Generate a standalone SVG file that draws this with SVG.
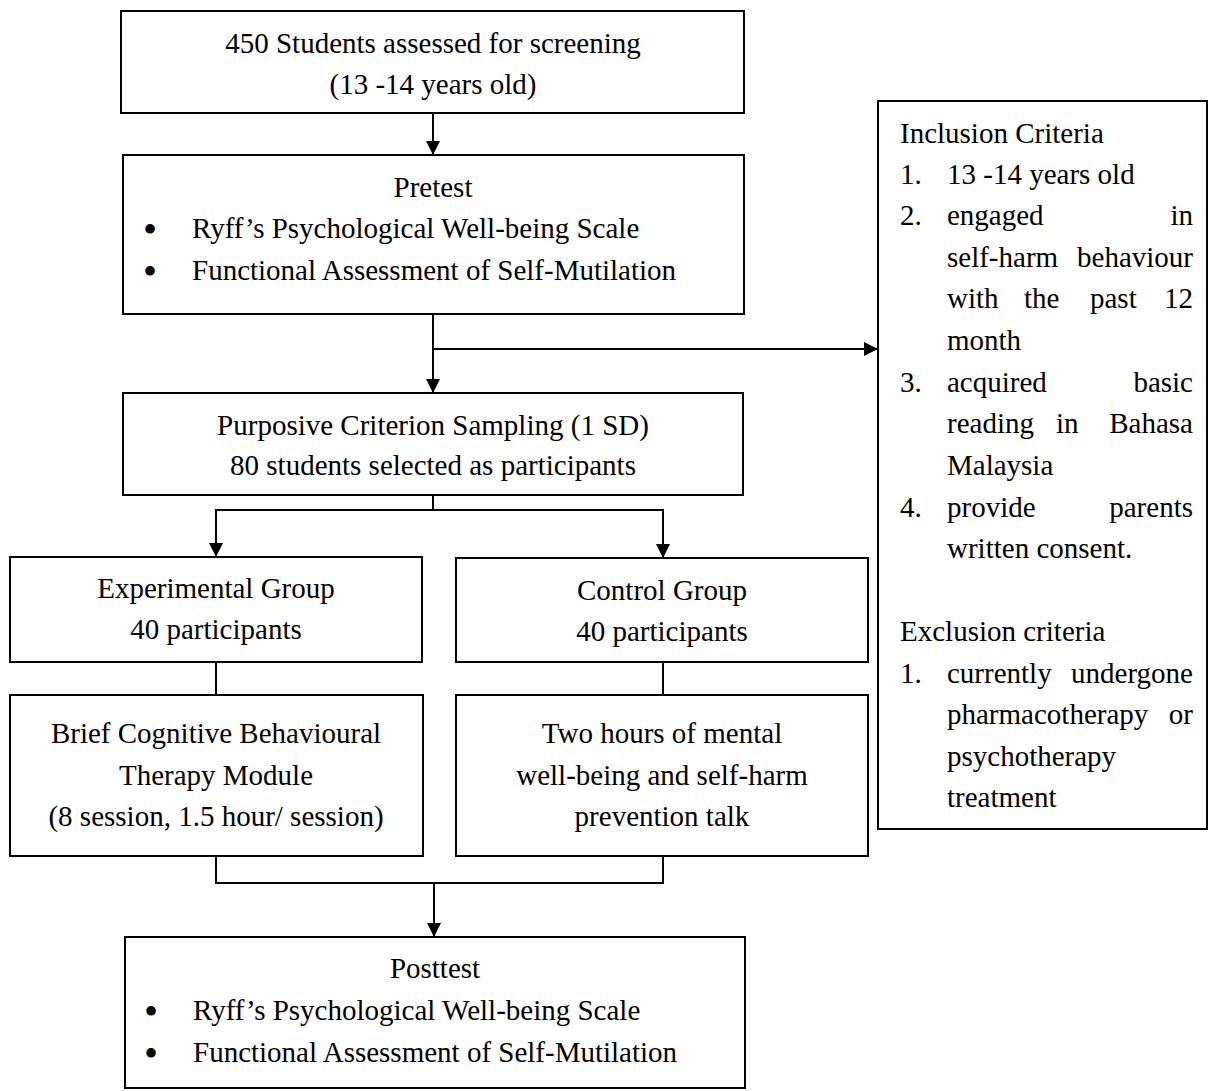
<svg xmlns="http://www.w3.org/2000/svg" width="1208" height="1091" viewBox="0 0 1208 1091">
<style>
  .box { fill: #ffffff; stroke: #000000; stroke-width: 2; }
  .t { font-family: "Liberation Serif", "Times New Roman", serif; font-size: 29px; fill: #000000; }
  .b { font-family: "Liberation Serif", "Times New Roman", serif; font-size: 40px; fill: #000000; text-anchor: middle; }
  .c { text-anchor: middle; }
  .e { text-anchor: end; }
  .ln { fill: none; stroke: #000000; stroke-width: 2; }
</style>
<defs>
  <marker id="arr" markerUnits="userSpaceOnUse" markerWidth="16" markerHeight="16" refX="14" refY="7" orient="auto">
    <path d="M0,0 L14,7 L0,14 z" fill="#000000"/>
  </marker>
</defs>
<rect x="0" y="0" width="1208" height="1091" fill="#ffffff"/>

<g id="connectors">
  <line class="ln" x1="433" y1="113" x2="433" y2="155" marker-end="url(#arr)"/>
  <line class="ln" x1="433" y1="314" x2="433" y2="393" marker-end="url(#arr)"/>
  <line class="ln" x1="433" y1="349" x2="878" y2="349" marker-end="url(#arr)"/>
  <line class="ln" x1="433" y1="495" x2="433" y2="510"/>
  <line class="ln" x1="215" y1="510" x2="664" y2="510"/>
  <line class="ln" x1="216" y1="510" x2="216" y2="557" marker-end="url(#arr)"/>
  <line class="ln" x1="663" y1="510" x2="663" y2="558" marker-end="url(#arr)"/>
  <line class="ln" x1="216" y1="662" x2="216" y2="695"/>
  <line class="ln" x1="663" y1="662" x2="663" y2="695"/>
  <polyline class="ln" points="216,856 216,883 663,883 663,856"/>
  <line class="ln" x1="434" y1="883" x2="434" y2="937" marker-end="url(#arr)"/>
</g>

<g id="screening">
  <rect class="box" x="121" y="11" width="623" height="102"/>
  <text class="t c" x="433" y="53">450 Students assessed for screening</text>
  <text class="t c" x="433" y="94">(13 -14 years old)</text>
</g>

<g id="pretest">
  <rect class="box" x="123" y="155" width="621" height="159"/>
  <text class="t c" x="433" y="197">Pretest</text>
  <text class="b" x="150" y="243">•</text>
  <text class="t" x="192" y="238">Ryff’s Psychological Well-being Scale</text>
  <text class="b" x="150" y="285">•</text>
  <text class="t" x="192" y="280">Functional Assessment of Self-Mutilation</text>
</g>

<g id="sampling">
  <rect class="box" x="123" y="393" width="620" height="102"/>
  <text class="t c" x="433" y="435">Purposive Criterion Sampling (1 SD)</text>
  <text class="t c" x="433" y="475">80 students selected as participants</text>
</g>

<g id="experimental">
  <rect class="box" x="10" y="557" width="412" height="105"/>
  <text class="t c" x="216" y="598">Experimental Group</text>
  <text class="t c" x="216" y="639">40 participants</text>
</g>

<g id="control">
  <rect class="box" x="456" y="558" width="412" height="104"/>
  <text class="t c" x="662" y="600">Control Group</text>
  <text class="t c" x="662" y="641">40 participants</text>
</g>

<g id="bcbt">
  <rect class="box" x="10" y="695" width="413" height="161"/>
  <text class="t c" x="216" y="743">Brief Cognitive Behavioural</text>
  <text class="t c" x="216" y="785">Therapy Module</text>
  <text class="t c" x="216" y="826">(8 session, 1.5 hour/ session)</text>
</g>

<g id="talk">
  <rect class="box" x="456" y="695" width="412" height="161"/>
  <text class="t c" x="662" y="743">Two hours of mental</text>
  <text class="t c" x="662" y="785">well-being and self-harm</text>
  <text class="t c" x="662" y="826">prevention talk</text>
</g>

<g id="posttest">
  <rect class="box" x="125" y="937" width="620" height="151"/>
  <text class="t c" x="435" y="978">Posttest</text>
  <text class="b" x="151" y="1025">•</text>
  <text class="t" x="193" y="1020">Ryff’s Psychological Well-being Scale</text>
  <text class="b" x="151" y="1067">•</text>
  <text class="t" x="193" y="1062">Functional Assessment of Self-Mutilation</text>
</g>

<g id="criteria">
  <rect class="box" x="878" y="101" width="329" height="728"/>
  <text class="t" x="900" y="143">Inclusion Criteria</text>
  <text class="t" x="900" y="184">1.</text>
  <text class="t" x="947" y="184">13 -14 years old</text>
  <text class="t" x="900" y="225">2.</text>
  <text class="t" x="947" y="225">engaged</text>
  <text class="t e" x="1193" y="225">in</text>
  <text class="t" x="947" y="267">self-harm</text>
  <text class="t e" x="1193" y="267">behaviour</text>
  <text class="t" x="947" y="308">with</text>
  <text class="t" x="1024" y="308">the</text>
  <text class="t" x="1090" y="308">past</text>
  <text class="t e" x="1193" y="308">12</text>
  <text class="t" x="947" y="350">month</text>
  <text class="t" x="900" y="392">3.</text>
  <text class="t" x="947" y="392">acquired</text>
  <text class="t e" x="1193" y="392">basic</text>
  <text class="t" x="947" y="433">reading</text>
  <text class="t" x="1056" y="433">in</text>
  <text class="t e" x="1193" y="433">Bahasa</text>
  <text class="t" x="947" y="475">Malaysia</text>
  <text class="t" x="900" y="517">4.</text>
  <text class="t" x="947" y="517">provide</text>
  <text class="t e" x="1193" y="517">parents</text>
  <text class="t" x="947" y="558">written consent.</text>
  <text class="t" x="900" y="641">Exclusion criteria</text>
  <text class="t" x="900" y="683">1.</text>
  <text class="t" x="947" y="683">currently</text>
  <text class="t e" x="1193" y="683">undergone</text>
  <text class="t" x="947" y="724">pharmacotherapy</text>
  <text class="t e" x="1193" y="724">or</text>
  <text class="t" x="947" y="766">psychotherapy</text>
  <text class="t" x="947" y="807">treatment</text>
</g>
</svg>
